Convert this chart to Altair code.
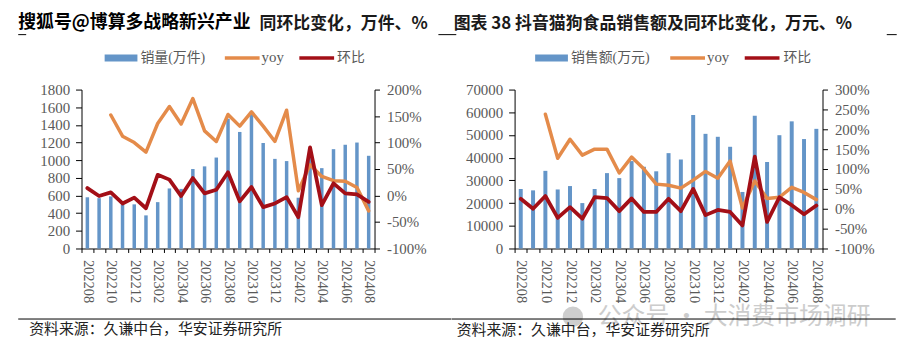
import altair as alt
import pandas as pd

# ---------------- data ----------------
months = ["202208", "202209", "202210", "202211", "202212", "202301", "202302",
          "202303", "202304", "202305", "202306", "202307", "202308", "202309",
          "202310", "202311", "202312", "202401", "202402", "202403", "202404",
          "202405", "202406", "202407", "202408"]

# left: sales volume (万件), yoy %, mom %
vol = [580, 570, 590, 500, 500, 375, 525, 680, 675, 900, 930, 1030, 1470, 1320,
       1550, 1195, 1015, 990, 575, 1100, 910, 1125, 1175, 1200, 1050]
vol_yoy = [None, None, 152, 112, 100, 82, 136, 168, 135, 183, 122, 102, 153, 131,
           158, 131, 102, 161, 9, 58, 36, 28, 27, 15, -29]
vol_mom = [14, -1, 6, -15, -4, -24, 39, 30, -1, 33, 4, 11, 44, -11,
           16, -22, -15, -3, -41, 91, -18, 23, 4, 2, -12]

# right: sales amount (万元), yoy %, mom %
amt = [26200, 25600, 34200, 26000, 27500, 20000, 26200, 33200, 31000, 38500, 36000,
       34000, 42000, 39200, 58800, 50500, 49200, 44800, 24900, 58500, 38100, 49900,
       56000, 48200, 52700]
amt_yoy = [None, None, 238, 127, 175, 135, 150, 150, 90, 130, 100, 62, 59, 52,
           72, 94, 77, 120, 2, 70, 26, 29, 54, 41, 23]
amt_mom = [25, 0, 32, -23, 4, -25, 29, 27, -6, 26, -8, -8, 25, -6,
           50, -16, -3, -8, -42, 131, -33, 29, 9, -14, 8]

left_title_a = "搜狐号@博算多战略新兴产业"
left_title_b = "同环比变化，万件、%"
right_title = "图表 38 抖音猫狗食品销售额及同环比变化，万元、%"
left_legend = ["销量(万件)", "yoy", "环比"]
right_legend = ["销售额(万元)", "yoy", "环比"]
source_text = "资料来源：久谦中台，华安证券研究所"
watermark = "公众号 · 大消费市场调研"

BLUE = "#6495C8"
ORANGE = "#E48B4A"
RED = "#A30F17"
GRAY = "#595959"
SERIF = "Liberation Serif"
CJK = "Noto Sans CJK SC"
MIXED = "Liberation Serif, Noto Sans CJK SC"

H = 160


def pct(v):
    return [None if x is None else x / 100 for x in v]


def text(s, x, y, size, color="#000", weight="normal", font=CJK, opacity=1.0):
    return alt.Chart(pd.DataFrame({"t": [s]})).mark_text(
        align="left", baseline="middle", fontSize=size, font=font,
        fontWeight=weight, color=color, opacity=opacity
    ).encode(text="t:N", x=alt.value(x), y=alt.value(y))


def hrule(x1, x2, y, color="#000", width=1.0):
    return alt.Chart(pd.DataFrame({"a": [0]})).mark_rule(
        color=color, strokeWidth=width, strokeCap="butt"
    ).encode(x=alt.value(x1), x2=alt.value(x2), y=alt.value(y))


def rect(x1, x2, y1, y2, color):
    return alt.Chart(pd.DataFrame({"a": [0]})).mark_rect(color=color).encode(
        x=alt.value(x1), x2=alt.value(x2), y=alt.value(y1), y2=alt.value(y2))


def panel(bar_vals, yoy_vals, mom_vals, width, bar_max, bar_step, pmin, pmax,
          bar_size, extras):
    df = pd.DataFrame({"month": months, "bar": bar_vals,
                       "yoy": pct(yoy_vals), "mom": pct(mom_vals)})
    base = alt.Chart(df)
    x = alt.X(
        "month:N", sort=months, title=None,
        scale=alt.Scale(paddingInner=0, paddingOuter=0),
        axis=alt.Axis(
            labelAngle=90, labelOverlap=False,
            labelExpr="toNumber(substring(datum.value, 4, 6)) % 2 == 0 ? datum.value : ''",
            tickBand="extent", tickSize=4, labelPadding=7,
            labelFont=SERIF, labelFontSize=14.5, labelColor=GRAY,
            domainColor="#000", tickColor="#000", grid=False),
    )
    bars = base.mark_bar(size=bar_size, color=BLUE).encode(
        x=x,
        y=alt.Y("bar:Q", title=None,
                scale=alt.Scale(domain=[0, bar_max], nice=False, zero=True),
                axis=alt.Axis(orient="left", values=list(range(0, bar_max + 1, bar_step)),
                              format="d", grid=False, tickSize=6, labelPadding=6,
                              labelFont=SERIF, labelFontSize=15, labelColor=GRAY,
                              domainColor="#000", tickColor="#000")),
    )
    paxis = alt.Axis(orient="right", values=[i / 2 for i in range(int(pmin * 2), int(pmax * 2) + 1)],
                     format=".0%", labelExpr="replace(datum.label, '\u2212', '-')",
                     grid=False, tickSize=5, labelPadding=7,
                     labelFont=SERIF, labelFontSize=15, labelColor=GRAY,
                     domainColor="#000", tickColor="#000")
    pscale = alt.Scale(domain=[pmin, pmax], nice=False, zero=False)
    yoy = base.mark_line(color=ORANGE, strokeWidth=3.5, strokeJoin="round",
                         strokeCap="round").encode(
        x=x, y=alt.Y("yoy:Q", title=None, scale=pscale, axis=paxis))
    mom = base.mark_line(color=RED, strokeWidth=3.8, strokeJoin="round",
                         strokeCap="round").encode(
        x=x, y=alt.Y("mom:Q", title=None, scale=pscale, axis=paxis))
    lines = alt.layer(yoy, mom)
    return alt.layer(bars, lines, *extras).resolve_scale(y="independent").properties(
        width=width, height=H)


# left panel annotations (coordinates relative to plot origin)
left_extras = [
    text(left_title_a, -63.7, -66.8, 18, "#000", "bold"),
    text(left_title_b, 179.3, -66.3, 17, "#1a1a1a", "bold"),
    hrule(-63.7, -55.7, -55.3),
    hrule(359.3, 377.3, -55.3),
    rect(23.3, 56.3, -35.3, -28.3, BLUE),
    text(left_legend[0], 59.3, -31.8, 14, GRAY, font=MIXED),
    hrule(144.3, 179.3, -31.8, ORANGE, 3.5),
    text(left_legend[1], 181.3, -32.8, 15, GRAY, font=MIXED),
    hrule(219.3, 254.3, -31.8, RED, 3.5),
    text(left_legend[2], 257.3, -31.8, 14, GRAY, font=MIXED),
    hrule(-63.7, 372.3, 231.0),
    text(source_text, -52.7, 240.7, 15, "#222"),
]

right_extras = [
    text(right_title, -61.3, -66.3, 17, "#1a1a1a", "bold"),
    hrule(374.7, 384.7, -55.3),
    rect(20.7, 53.7, -35.3, -28.3, BLUE),
    text(right_legend[0], 56.7, -31.8, 14, GRAY, font=MIXED),
    hrule(156.7, 191.7, -31.8, ORANGE, 3.5),
    text(right_legend[1], 193.7, -32.8, 15, GRAY, font=MIXED),
    hrule(231.7, 266.7, -31.8, RED, 3.5),
    text(right_legend[2], 270.7, -31.8, 14, GRAY, font=MIXED),
    alt.Chart(pd.DataFrame({"a": [0]})).mark_point(
        shape="circle", filled=True, size=420, color="#c9c9c9", opacity=0.9
    ).encode(x=alt.value(58.7), y=alt.value(228.7)),
    text(watermark, 83.7, 229.0, 24, "#c4c4c4", opacity=0.85),
    hrule(-63.3, 383.7, 231.0),
    text(source_text, -58.3, 242.0, 15, "#222"),
]

left = panel(vol, vol_yoy, vol_mom, 295, 1800, 200, -1.0, 2.0, 3.5, left_extras)
right = panel(amt, amt_yoy, amt_mom, 310, 70000, 10000, -1.0, 3.0, 4, right_extras)

chart = alt.hconcat(left, right, spacing=141, bounds="flush").resolve_scale(
    x="independent", y="independent"
).configure_view(stroke=None).properties(
    padding={"left": 9, "top": 5, "right": 0, "bottom": 0},
    background="white",
)

chart.save("out.html", embed_options={"renderer": "svg", "actions": False})
